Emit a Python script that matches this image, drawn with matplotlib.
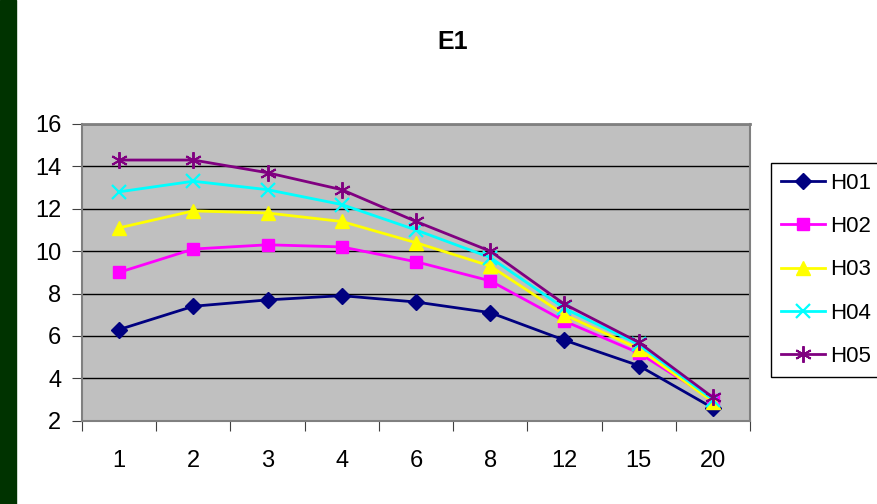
import matplotlib
matplotlib.use("Agg")
import matplotlib.pyplot as plt
from matplotlib.patches import Rectangle

# data
categories = ["1", "2", "3", "4", "6", "8", "12", "15", "20"]
h01 = [6.3, 7.4, 7.7, 7.9, 7.6, 7.1, 5.8, 4.6, 2.6]
h02 = [9.0, 10.1, 10.3, 10.2, 9.5, 8.6, 6.7, 5.2, 3.0]
h03 = [11.1, 11.9, 11.8, 11.4, 10.4, 9.3, 7.0, 5.4, 2.9]
h04 = [12.8, 13.3, 12.9, 12.2, 11.0, 9.7, 7.3, 5.6, 3.0]
h05 = [14.3, 14.3, 13.7, 12.9, 11.4, 10.0, 7.5, 5.7, 3.1]
series_names = ["H01", "H02", "H03", "H04", "H05"]

plt.rcParams['font.family'] = ['Liberation Sans', 'DejaVu Sans']

fig = plt.figure(figsize=(8.77, 5.04), dpi=100)
# dark green strip on the left
fig.patches.append(Rectangle((0, 0), 16 / 877, 1, transform=fig.transFigure,
                             color="#003300", zorder=0))

ax = fig.add_axes([82 / 877, 1 - 420.7 / 504, 668 / 877, 296.7 / 504])
ax.set_facecolor("#C0C0C0")

x = list(range(len(categories)))
styles = [
    dict(color="#000080", marker="D", ms=8),
    dict(color="#FF00FF", marker="s", ms=8),
    dict(color="#FFFF00", marker="^", ms=10),
    dict(color="#00FFFF", marker="x", ms=10, mew=1.6),
    dict(color="#800080", marker=(6, 2, 0), ms=12, mew=1.4),
]
for name, vals, st in zip(series_names, [h01, h02, h03, h04, h05], styles):
    ax.plot(x, vals, lw=2, label=name, zorder=3, **st)

ax.set_ylim(2, 16)
ax.set_xlim(-0.5, len(categories) - 0.5)
ax.set_yticks(range(2, 17, 2))
ax.yaxis.grid(True, color="black", lw=1)
ax.set_axisbelow(True)

# category boundaries get tick marks, labels sit at centres
ax.set_xticks([i - 0.5 for i in range(len(categories) + 1)])
ax.set_xticklabels([])
ax.set_xticks(x, minor=True)
ax.set_xticklabels(categories, minor=True)
ax.tick_params(axis="x", which="minor", length=0, pad=21, labelsize=17)
ax.tick_params(axis="x", which="major", length=7, color="#404040", direction="out")
ax.tick_params(axis="y", length=7, color="#404040", direction="out", pad=8, labelsize=17)

for side in ["left", "bottom", "right"]:
    ax.spines[side].set_color("#808080")
    ax.spines[side].set_linewidth(1.5)
ax.spines["top"].set_color("#808080")
ax.spines["top"].set_linewidth(2)

fig.text(453 / 877, 1 - 42 / 504, "E1", ha="center", va="center",
         fontsize=18, fontweight="bold")

leg = fig.legend(loc="upper left", bbox_to_anchor=(771 / 877, 1 - 163 / 504),
                 fontsize=16, frameon=True, fancybox=False, edgecolor="black",
                 framealpha=1, labelspacing=1.0, handlelength=2.0,
                 handletextpad=0.2, borderpad=0.45, borderaxespad=0)
leg.get_frame().set_linewidth(1)

fig.savefig("out.png", dpi=100)
